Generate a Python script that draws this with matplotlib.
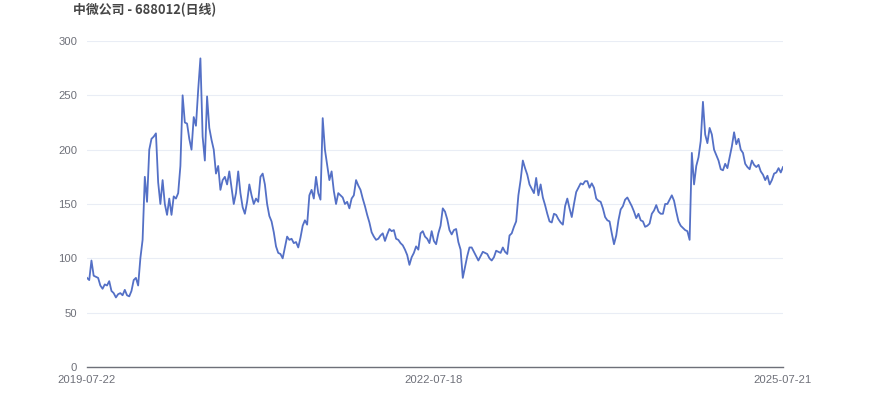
import matplotlib
matplotlib.use("Agg")
import matplotlib.pyplot as plt
import pandas as pd

# weekly closes (2019-07-22 .. 2025-07-21)
dates = pd.date_range("2019-07-22", "2025-07-21", freq="W-MON")

close_2019_2020 = [
    82, 80, 98, 84, 83, 82, 75, 72, 76, 75, 79, 70, 68, 64, 67, 68, 66, 71, 66, 65,
    70, 80, 82, 75, 100, 117, 175, 152, 200, 210, 212, 215, 170, 150, 172, 150, 140, 155, 140, 157,
    155, 160, 185, 250, 225,
]
close_2020_2021 = [
    224, 210, 200, 230, 222, 255, 284, 212, 190, 249, 220, 209, 200, 178, 185, 163, 172, 175, 168, 180,
    165, 150, 160, 180, 160, 147, 141, 152, 168, 158, 150, 155, 152, 175, 178, 168, 150, 139, 134, 124,
    111, 105, 104, 100, 110,
]
close_2021_2022 = [
    120, 117, 118, 114, 115, 110, 119, 130, 135, 131, 158, 163, 155, 175, 160, 154, 229, 200, 186, 172,
    180, 162, 150, 160, 158, 156, 150, 152, 146, 155, 158, 172, 167, 163, 155, 148, 140, 133, 124, 120,
    117, 118, 121, 123, 116,
]
close_2022_2023 = [
    122, 127, 125, 126, 118, 117, 114, 112, 108, 103, 94, 101, 105, 111, 108, 123, 125, 120, 118, 114,
    125, 116, 113, 123, 130, 146, 143, 136, 126, 122, 126, 127, 115, 108, 82, 92, 102, 110, 110, 106,
    102, 98, 102, 106, 105,
]
close_2023_2024 = [
    104, 100, 98, 101, 107, 106, 105, 110, 106, 104, 121, 123, 129, 134, 158, 172, 190, 183, 177, 168,
    164, 160, 174, 158, 168, 156, 149, 141, 134, 133, 141, 140, 136, 133, 131, 148, 155, 146, 138, 150,
    161, 165, 169, 168, 171,
]
close_2024 = [
    171, 165, 169, 165, 155, 153, 152, 146, 138, 135, 134, 123, 113, 121, 135, 145, 148, 154, 156, 152,
    148, 143, 137, 141, 135, 134, 129, 130, 132, 141, 144, 149, 143, 141, 141, 150, 150, 154, 158, 153,
    143, 134, 130, 128, 126,
]
close_2024_2025 = [
    125, 117, 197, 168, 185, 193, 208, 244, 214, 206, 220, 214, 200, 195, 190, 182, 181, 187, 183, 193,
    203, 216, 205, 210, 200, 197, 187, 184, 182, 190, 186, 184, 186, 180, 177, 172, 176, 168, 172, 178,
    179, 183, 179, 184,
]

closes = (close_2019_2020 + close_2020_2021 + close_2021_2022 + close_2022_2023
          + close_2023_2024 + close_2024 + close_2024_2025)
tick_idx = [0, 156, len(dates) - 1]
tick_labels = [dates[i].strftime("%Y-%m-%d") for i in tick_idx]

plt.rcParams['font.family'] = ['Noto Sans CJK SC', 'DejaVu Sans']

fig = plt.figure(figsize=(8.7, 4.17), dpi=100)
ax = fig.add_axes([87 / 870, 50 / 417, 696 / 870, 326 / 417])

ax.plot(range(len(closes)), closes, color='#5470c6', linewidth=1.3)

ax.set_xlim(0, len(closes) - 1)
ax.set_ylim(0, 300)
ax.set_yticks([0, 50, 100, 150, 200, 250, 300])
ax.set_xticks(tick_idx)
ax.set_xticklabels(tick_labels)

for s in ['top', 'right', 'left']:
    ax.spines[s].set_visible(False)
ax.spines['bottom'].set_color('#6E7079')
ax.spines['bottom'].set_linewidth(1)

ax.grid(axis='y', color='#E9EDF5', linewidth=0.8)
ax.set_axisbelow(True)
ax.tick_params(axis='both', length=0, labelcolor='#6E7079', labelsize=8.1)
ax.tick_params(axis='y', pad=7)
ax.tick_params(axis='x', pad=5.5)
for lab in ax.get_xticklabels() + ax.get_yticklabels():
    lab.set_family('Liberation Sans')

fig.text(73 / 870, 1 - 10 / 417, "中微公司 - 688012(日线)", fontsize=9.3,
         fontweight='bold', color='#464646', va='center', ha='left')

plt.savefig("out.png", dpi=100)
